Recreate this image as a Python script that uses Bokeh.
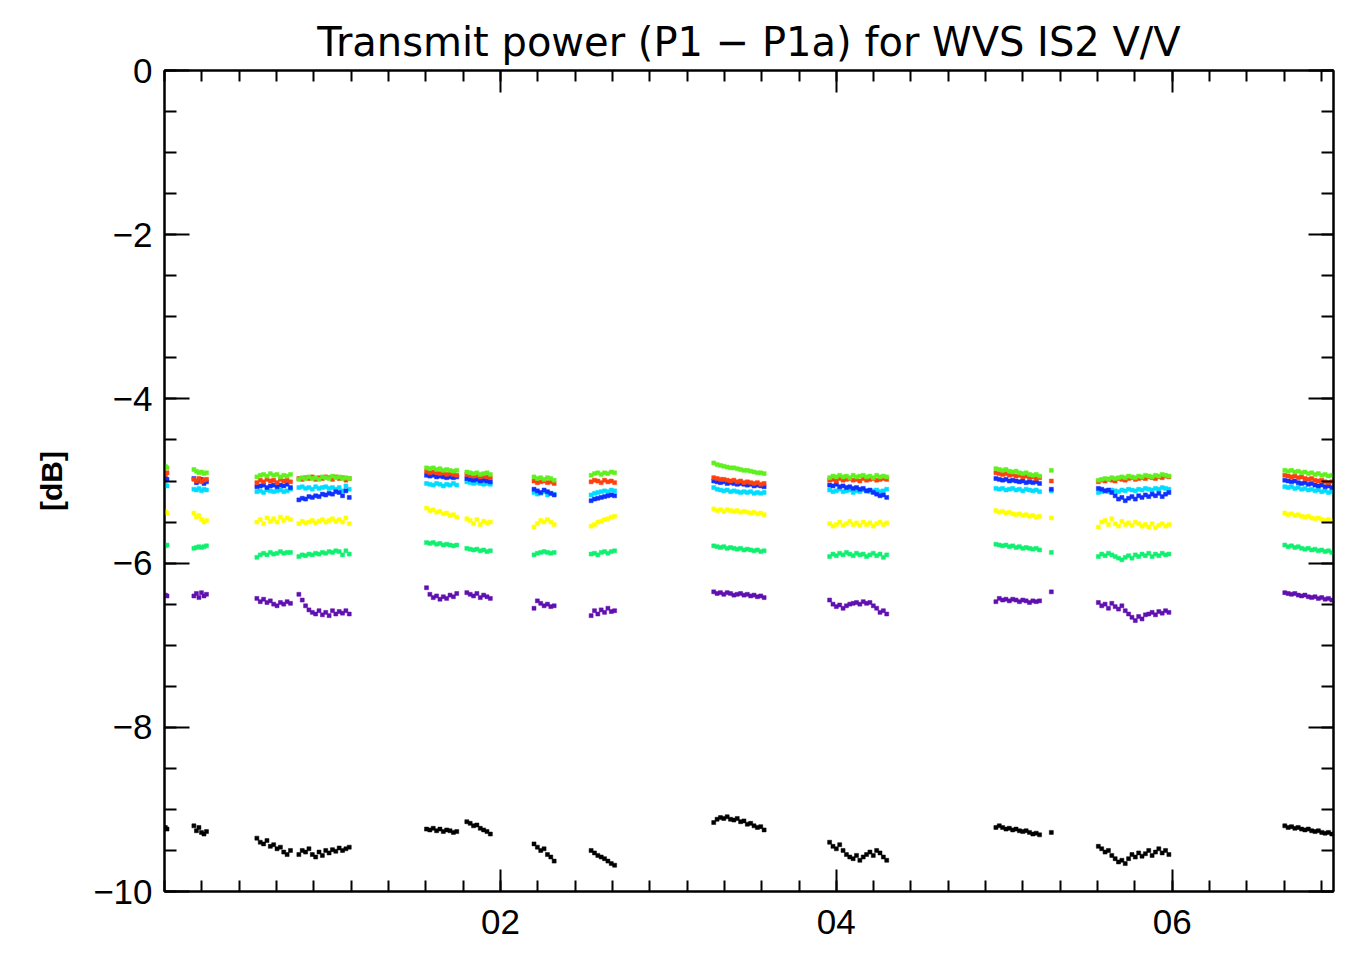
from bokeh.plotting import figure
from bokeh.models import FixedTicker, LinearAxis, Range1d
from bokeh.embed import file_html
from bokeh.resources import INLINE

# ---------------- data ----------------
title_text = "Transmit power (P1 \u2212 P1a) for WVS IS2 V/V"
y_label = "[dB]"

x_ticks = [2, 4, 6]
x_tick_labels = ["02", "04", "06"]
y_ticks = [-10, -8, -6, -4, -2, 0]
y_tick_labels = ["\u221210", "\u22128", "\u22126", "\u22124", "\u22122", "0"]

# sample times (hours)
t = [0.005, 0.015,
     0.175, 0.19, 0.205, 0.22, 0.235, 0.25,
     0.55, 0.57, 0.59, 0.61, 0.63, 0.65, 0.67, 0.69, 0.71, 0.73, 0.75,
     0.80, 0.82, 0.84, 0.86, 0.88, 0.90, 0.92, 0.94, 0.96, 0.98, 1.00, 1.02, 1.04, 1.06, 1.08, 1.10,
     1.56, 1.58, 1.60, 1.62, 1.64, 1.66, 1.68, 1.70, 1.72, 1.74,
     1.80, 1.82, 1.84, 1.86, 1.88, 1.90, 1.92, 1.94,
     2.20, 2.22, 2.24, 2.26, 2.28, 2.30, 2.32,
     2.54, 2.56, 2.58, 2.60, 2.62, 2.64, 2.66, 2.68,
     3.27, 3.29, 3.31, 3.33, 3.35, 3.37, 3.39, 3.41, 3.43, 3.45, 3.47, 3.49, 3.51, 3.53, 3.55, 3.57,
     3.96, 3.98, 4.00, 4.02, 4.04, 4.06, 4.08, 4.10, 4.12, 4.14, 4.16, 4.18, 4.20, 4.22, 4.24, 4.26, 4.28, 4.30,
     4.95, 4.97, 4.99, 5.01, 5.03, 5.05, 5.07, 5.09, 5.11, 5.13, 5.15, 5.17, 5.19, 5.21, 5.28,
     5.56, 5.58, 5.60, 5.62, 5.64, 5.66, 5.68, 5.70, 5.72, 5.74, 5.76, 5.78, 5.80, 5.82, 5.84, 5.86, 5.88, 5.90, 5.92, 5.94, 5.96, 5.98,
     6.67, 6.69, 6.71, 6.73, 6.75, 6.77, 6.79, 6.81, 6.83, 6.85, 6.87, 6.89, 6.91, 6.93, 6.95]

lime = [-4.82, -4.84,
        -4.86, -4.88, -4.90, -4.89, -4.91, -4.90,
        -4.95, -4.93, -4.92, -4.94, -4.91, -4.93, -4.92, -4.95, -4.93, -4.94, -4.92,
        -4.98, -4.96, -4.97, -4.95, -4.97, -4.96, -4.98, -4.95, -4.96, -4.97, -4.94, -4.96, -4.95, -4.97, -4.96, -4.97,
        -4.84, -4.85, -4.84, -4.86, -4.85, -4.87, -4.86, -4.87, -4.88, -4.87,
        -4.89, -4.90, -4.91, -4.90, -4.92, -4.91, -4.90, -4.92,
        -4.95, -4.97, -4.96, -4.98, -4.96, -4.97, -4.99,
        -4.93, -4.91, -4.90, -4.92, -4.90, -4.91, -4.89, -4.90,
        -4.78, -4.80, -4.81, -4.82, -4.83, -4.84, -4.84, -4.85, -4.86, -4.87, -4.87, -4.88, -4.89, -4.90, -4.90, -4.91,
        -4.96, -4.94, -4.95, -4.93, -4.95, -4.94, -4.96, -4.93, -4.95, -4.94, -4.93, -4.95, -4.94, -4.96, -4.93, -4.95, -4.94, -4.95,
        -4.85, -4.86, -4.87, -4.86, -4.88, -4.89, -4.88, -4.90, -4.91, -4.90, -4.92, -4.93, -4.92, -4.94, -4.87,
        -4.99, -4.98, -4.97, -4.98, -4.96, -4.97, -4.96, -4.95, -4.96, -4.94, -4.95, -4.96, -4.94, -4.95, -4.93, -4.94, -4.95, -4.93, -4.94, -4.92, -4.93, -4.94,
        -4.87, -4.88, -4.87, -4.89, -4.88, -4.90, -4.89, -4.91, -4.90, -4.92, -4.91, -4.93, -4.92, -4.94, -4.93]

red = [-4.92, -4.90,
       -4.98, -5.00, -4.97, -5.01, -4.99, -4.98,
       -5.02, -4.99, -5.01, -4.98, -5.00, -4.99, -5.02, -4.98, -5.00, -4.99, -5.01,
       -4.97, -4.98, -4.96, -4.97, -4.95, -4.98, -4.96, -4.97, -4.95, -4.96, -4.98, -4.95, -4.97, -4.96, -4.99, -4.97,
       -4.88, -4.90, -4.89, -4.90, -4.91, -4.90, -4.92, -4.91, -4.92, -4.93,
       -4.92, -4.93, -4.94, -4.93, -4.95, -4.94, -4.95, -4.96,
       -5.00, -5.02, -5.01, -5.00, -5.02, -5.01, -5.03,
       -5.01, -4.99, -5.00, -5.02, -4.99, -5.01, -5.00, -5.02,
       -4.96, -4.97, -4.98, -4.98, -4.99, -5.00, -4.99, -5.01, -5.00, -5.02, -5.01, -5.02, -5.03, -5.02, -5.04, -5.03,
       -4.99, -4.98, -5.00, -4.97, -4.99, -4.98, -4.97, -4.99, -4.98, -5.00, -4.97, -4.99, -4.98, -4.97, -4.99, -4.98, -4.97, -4.98,
       -4.90, -4.91, -4.92, -4.91, -4.93, -4.92, -4.94, -4.93, -4.95, -4.94, -4.96, -4.95, -4.97, -4.96, -5.00,
       -5.01, -4.99, -5.00, -4.98, -4.99, -5.00, -4.97, -4.98, -4.99, -4.97, -4.96, -4.98, -4.97, -4.96, -4.97, -4.95, -4.96, -4.97, -4.95, -4.96, -4.94, -4.95,
       -4.93, -4.94, -4.95, -4.94, -4.96, -4.95, -4.97, -4.98, -4.97, -4.99, -5.00, -4.99, -5.01, -5.02, -5.01]

blue = [-4.97, -4.98,
        -4.97, -5.02, -5.00, -4.98, -5.03, -5.01,
        -5.07, -5.06, -5.05, -5.08, -5.06, -5.05, -5.07, -5.05, -5.06, -5.04, -5.08,
        -5.23, -5.21, -5.22, -5.19, -5.20, -5.18, -5.19, -5.16, -5.17, -5.15, -5.16, -5.13, -5.14, -5.18, -5.12, -5.20,
        -4.93, -4.94, -4.93, -4.95, -4.94, -4.95, -4.96, -4.95, -4.96, -4.95,
        -4.97, -4.98, -4.99, -4.98, -5.00, -4.99, -5.00, -5.01,
        -5.10, -5.12, -5.14, -5.11, -5.13, -5.15, -5.17,
        -5.24, -5.22, -5.21, -5.20, -5.19, -5.18, -5.17, -5.18,
        -5.00, -5.01, -5.02, -5.01, -5.03, -5.02, -5.03, -5.04, -5.03, -5.04, -5.05, -5.04, -5.06, -5.05, -5.06, -5.07,
        -5.05, -5.06, -5.04, -5.07, -5.06, -5.08, -5.07, -5.09, -5.08, -5.10, -5.09, -5.12, -5.11, -5.14, -5.16, -5.18, -5.17, -5.20,
        -4.97, -4.98, -4.99, -4.98, -5.00, -4.99, -5.00, -5.01, -5.00, -5.02, -5.01, -5.02, -5.01, -5.03, -5.10,
        -5.09, -5.10, -5.12, -5.11, -5.14, -5.18, -5.22, -5.20, -5.24, -5.21, -5.19, -5.22, -5.18, -5.20, -5.17, -5.19, -5.16, -5.18, -5.15, -5.19, -5.16, -5.14,
        -4.99, -5.00, -5.01, -5.00, -5.02, -5.03, -5.02, -5.04, -5.03, -5.05, -5.06, -5.05, -5.07, -5.06, -5.08]

cyan = [-5.05, -5.06,
        -5.10, -5.11, -5.09, -5.12, -5.10, -5.11,
        -5.13, -5.12, -5.14, -5.11, -5.12, -5.13, -5.12, -5.11, -5.13, -5.12, -5.10,
        -5.08, -5.07, -5.09, -5.08, -5.10, -5.07, -5.09, -5.08, -5.07, -5.09, -5.08, -5.10, -5.08, -5.12, -5.06, -5.10,
        -5.03, -5.04, -5.05, -5.03, -5.04, -5.06, -5.04, -5.05, -5.03, -5.05,
        -5.01, -5.02, -5.03, -5.02, -5.03, -5.04, -5.03, -5.04,
        -5.14, -5.16, -5.15, -5.13, -5.17, -5.15, -5.16,
        -5.17, -5.15, -5.14, -5.13, -5.12, -5.13, -5.11, -5.12,
        -5.08, -5.10, -5.11, -5.12, -5.11, -5.13, -5.12, -5.13, -5.14, -5.13, -5.14, -5.13, -5.15, -5.14, -5.15, -5.14,
        -5.11, -5.13, -5.12, -5.10, -5.13, -5.12, -5.11, -5.14, -5.12, -5.13, -5.11, -5.12, -5.13, -5.12, -5.11, -5.13, -5.12, -5.10,
        -5.09, -5.10, -5.09, -5.11, -5.10, -5.09, -5.11, -5.10, -5.12, -5.10, -5.11, -5.12, -5.11, -5.13, -5.12,
        -5.14, -5.13, -5.12, -5.13, -5.11, -5.12, -5.13, -5.11, -5.12, -5.10, -5.11, -5.12, -5.10, -5.11, -5.09, -5.10, -5.11, -5.09, -5.10, -5.08, -5.09, -5.10,
        -5.07, -5.08, -5.07, -5.09, -5.08, -5.10, -5.09, -5.11, -5.10, -5.12, -5.11, -5.13, -5.12, -5.14, -5.13]

yellow = [-5.37, -5.39,
          -5.39, -5.44, -5.42, -5.47, -5.50, -5.48,
          -5.50, -5.47, -5.52, -5.45, -5.49, -5.46, -5.50, -5.44, -5.48, -5.45, -5.47,
          -5.52, -5.49, -5.51, -5.50, -5.48, -5.51, -5.49, -5.47, -5.50, -5.48, -5.46, -5.49, -5.47, -5.50, -5.45, -5.52,
          -5.33, -5.36, -5.35, -5.38, -5.37, -5.40, -5.39, -5.42, -5.41, -5.44,
          -5.46, -5.48, -5.52, -5.47, -5.53, -5.49, -5.51, -5.50,
          -5.56, -5.52, -5.48, -5.50, -5.47, -5.50, -5.53,
          -5.55, -5.53, -5.50, -5.49, -5.47, -5.46, -5.44, -5.43,
          -5.34, -5.36, -5.35, -5.37, -5.35, -5.36, -5.37, -5.36, -5.38, -5.37, -5.38, -5.39, -5.38, -5.40, -5.39, -5.41,
          -5.52, -5.55, -5.53, -5.50, -5.54, -5.52, -5.49, -5.53, -5.51, -5.54, -5.50, -5.53, -5.51, -5.55, -5.52, -5.50, -5.53, -5.51,
          -5.36, -5.38, -5.37, -5.39, -5.38, -5.40, -5.41, -5.40, -5.42, -5.41, -5.43, -5.42, -5.44, -5.43, -5.45,
          -5.56, -5.50, -5.48, -5.53, -5.46, -5.52, -5.55, -5.49, -5.53, -5.51, -5.54, -5.50, -5.52, -5.55, -5.53, -5.56, -5.52, -5.57, -5.54, -5.52, -5.55, -5.53,
          -5.39, -5.41, -5.40, -5.42, -5.41, -5.43, -5.44, -5.43, -5.45, -5.46, -5.45, -5.47, -5.48, -5.47, -5.49]

green = [-5.79, -5.78,
         -5.82, -5.81, -5.80, -5.81, -5.80, -5.79,
         -5.93, -5.90, -5.88, -5.90, -5.87, -5.89, -5.88, -5.86, -5.88, -5.87, -5.87,
         -5.92, -5.90, -5.91, -5.89, -5.90, -5.88, -5.89, -5.87, -5.88, -5.86, -5.87, -5.85, -5.86, -5.90, -5.85, -5.89,
         -5.75, -5.76, -5.75, -5.77, -5.76, -5.78, -5.77, -5.78, -5.79, -5.78,
         -5.82, -5.83, -5.84, -5.83, -5.85, -5.84, -5.86, -5.85,
         -5.90, -5.88, -5.87, -5.86, -5.87, -5.88, -5.87,
         -5.89, -5.88, -5.90, -5.87, -5.86, -5.88, -5.86, -5.85,
         -5.79, -5.80, -5.81, -5.80, -5.82, -5.81, -5.82, -5.83, -5.82, -5.84, -5.83, -5.84, -5.85, -5.84, -5.86, -5.85,
         -5.92, -5.89, -5.91, -5.88, -5.90, -5.87, -5.89, -5.91, -5.88, -5.90, -5.89, -5.92, -5.90, -5.88, -5.91, -5.89, -5.93, -5.90,
         -5.77, -5.78, -5.79, -5.78, -5.80, -5.79, -5.81, -5.80, -5.82, -5.81, -5.82, -5.83, -5.82, -5.84, -5.87,
         -5.92, -5.89, -5.91, -5.88, -5.90, -5.92, -5.94, -5.96, -5.93, -5.91, -5.94, -5.90, -5.92, -5.89, -5.91, -5.88, -5.92, -5.89, -5.91, -5.88, -5.90, -5.89,
         -5.78, -5.80, -5.79, -5.81, -5.80, -5.82, -5.83, -5.82, -5.84, -5.83, -5.85, -5.84, -5.86, -5.85, -5.87]

purple = [-6.39, -6.40,
          -6.40, -6.37, -6.42, -6.36, -6.40, -6.38,
          -6.43, -6.47, -6.44, -6.48, -6.46, -6.50, -6.52, -6.48, -6.50, -6.47, -6.49,
          -6.38, -6.45, -6.52, -6.57, -6.60, -6.62, -6.58, -6.63, -6.60, -6.64, -6.58, -6.62, -6.59, -6.61, -6.58, -6.62,
          -6.30, -6.38, -6.42, -6.40, -6.44, -6.41, -6.43, -6.39, -6.41, -6.37,
          -6.36, -6.38, -6.40, -6.37, -6.42, -6.39, -6.41, -6.43,
          -6.55, -6.46, -6.49, -6.52, -6.50, -6.53, -6.52,
          -6.64, -6.58, -6.62, -6.57, -6.60, -6.55, -6.59, -6.58,
          -6.35, -6.37, -6.36, -6.38, -6.36, -6.37, -6.39, -6.38, -6.37, -6.39, -6.38, -6.40, -6.39, -6.41, -6.40, -6.42,
          -6.45, -6.50, -6.53, -6.51, -6.55, -6.52, -6.50, -6.49, -6.48, -6.50, -6.47, -6.49, -6.48, -6.52, -6.55, -6.60, -6.58, -6.62,
          -6.47, -6.43, -6.45, -6.44, -6.46, -6.44, -6.45, -6.47, -6.45, -6.46, -6.48, -6.46, -6.47, -6.46, -6.35,
          -6.48, -6.52, -6.50, -6.55, -6.49, -6.53, -6.56, -6.52, -6.58, -6.62, -6.66, -6.70, -6.65, -6.68, -6.63, -6.62, -6.60, -6.63, -6.59, -6.61, -6.58, -6.60,
          -6.36, -6.37, -6.38, -6.37, -6.39, -6.40, -6.39, -6.41, -6.42, -6.41, -6.43, -6.42, -6.44, -6.43, -6.45]

black = [-9.22, -9.24,
         -9.20, -9.26, -9.22, -9.28, -9.30, -9.27,
         -9.35, -9.40, -9.42, -9.38, -9.45, -9.43, -9.48, -9.46, -9.52, -9.55, -9.50,
         -9.55, -9.50, -9.52, -9.48, -9.55, -9.58, -9.52, -9.56, -9.50, -9.53, -9.49, -9.51, -9.47, -9.50, -9.48, -9.46,
         -9.24, -9.25, -9.23, -9.26, -9.24, -9.27, -9.25, -9.26, -9.28, -9.27,
         -9.15, -9.17, -9.20, -9.19, -9.23, -9.25, -9.27, -9.30,
         -9.42, -9.46, -9.50, -9.48, -9.55, -9.58, -9.63,
         -9.50, -9.53, -9.56, -9.58, -9.60, -9.63, -9.66, -9.68,
         -9.16, -9.12, -9.10, -9.11, -9.09, -9.12, -9.13, -9.11, -9.15, -9.14, -9.18, -9.17, -9.20, -9.22, -9.21, -9.25,
         -9.40, -9.45, -9.48, -9.43, -9.50, -9.55, -9.58, -9.60, -9.56, -9.62, -9.58, -9.55, -9.52, -9.56, -9.50, -9.53, -9.58, -9.62,
         -9.22, -9.20, -9.22, -9.24, -9.23, -9.25, -9.24, -9.26, -9.27, -9.26, -9.28, -9.30, -9.29, -9.31, -9.28,
         -9.45, -9.48, -9.52, -9.50, -9.56, -9.60, -9.64, -9.62, -9.66, -9.60, -9.55, -9.58, -9.53, -9.57, -9.54, -9.50, -9.56, -9.52, -9.48, -9.53, -9.50, -9.55,
         -9.20, -9.22, -9.21, -9.23, -9.22, -9.24, -9.25, -9.24, -9.26, -9.27, -9.26, -9.28, -9.29, -9.28, -9.30]

series = [("black", black, "#000000"),
          ("purple", purple, "#6010b0"),
          ("green", green, "#10f070"),
          ("yellow", yellow, "#ffff00"),
          ("cyan", cyan, "#00dcff"),
          ("blue", blue, "#1030ff"),
          ("red", red, "#ff4010"),
          ("lime", lime, "#60f020")]

for name, vals, _ in series:
    if len(vals) != len(t):
        raise ValueError(f"{name}: {len(vals)} values vs {len(t)} times")

# ---------------- figure ----------------
FONT = "Liberation Sans"
TITLE_FONT = "DejaVu Sans"

p = figure(width=1335, height=939, output_backend="svg", toolbar_location=None,
           x_range=Range1d(0, 6.96), y_range=Range1d(-10, 0),
           x_axis_location=None, y_axis_location=None,
           min_border_left=164, min_border_right=2, min_border_top=70, min_border_bottom=48)
p.xgrid.visible = False
p.ygrid.visible = False
p.background_fill_color = "white"
p.border_fill_color = "white"
p.outline_line_color = "black"
p.outline_line_width = 2

p.title.text = title_text
p.title.align = "center"
p.title.text_font = TITLE_FONT
p.title.text_font_size = "40px"
p.title.text_font_style = "normal"
p.title.text_color = "black"
p.title.standoff = 12

x_minor = [i * 2 / 9 for i in range(32)]
y_minor = [-10 + 0.5 * i for i in range(21)]
xticker = FixedTicker(ticks=x_ticks, minor_ticks=x_minor)
yticker = FixedTicker(ticks=y_ticks, minor_ticks=y_minor)


def style(ax, tick_in, minor_in, labels=True):
    ax.axis_line_color = "black"
    ax.axis_line_width = 2
    ax.major_tick_in = tick_in
    ax.major_tick_out = 0
    ax.minor_tick_in = minor_in
    ax.minor_tick_out = 0
    ax.major_tick_line_width = 2
    ax.minor_tick_line_width = 2
    ax.major_tick_line_color = "black"
    ax.minor_tick_line_color = "black"
    if labels:
        ax.major_label_text_font = FONT
        ax.major_label_text_font_size = "35px"
        ax.major_label_text_color = "black"
    else:
        ax.major_label_text_font_size = "1px"
        ax.major_label_text_alpha = 0
        ax.major_label_standoff = 0


bottom = LinearAxis(ticker=xticker,
                    major_label_overrides={k: v for k, v in zip(x_ticks, x_tick_labels)})
style(bottom, 22, 11)
bottom.major_label_standoff = 18
p.add_layout(bottom, "below")

top = LinearAxis(ticker=xticker)
style(top, 22, 11, labels=False)
p.add_layout(top, "above")

left = LinearAxis(ticker=yticker,
                  major_label_overrides={k: v for k, v in zip(y_ticks, y_tick_labels)},
                  axis_label=y_label)
style(left, 25, 12)
left.major_label_standoff = 12
left.axis_label_text_font = FONT
left.axis_label_text_font_size = "30px"
left.axis_label_text_font_style = "bold"
left.axis_label_text_color = "black"
left.axis_label_standoff = 22
p.add_layout(left, "left")

right = LinearAxis(ticker=yticker)
style(right, 25, 12, labels=False)
p.add_layout(right, "right")

for name, vals, col in series:
    p.scatter(x=t, y=vals, marker="square", size=4, fill_color=col, line_color=col,
              line_width=0.5)

open("out.html", "w").write(file_html(p, INLINE))
